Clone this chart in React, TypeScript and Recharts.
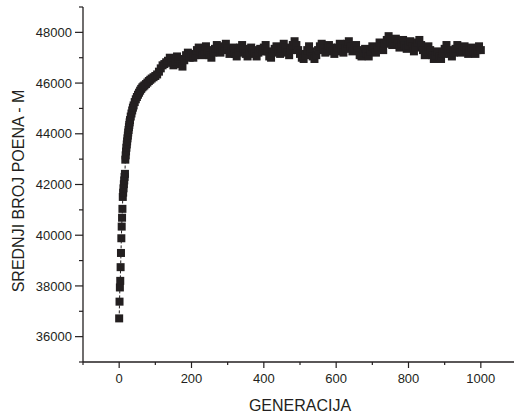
import { Line, LineChart, XAxis, YAxis } from "recharts";

const INK = "#231f20";
const FONT = "'Liberation Sans', Arial, Helvetica, sans-serif";

// generations (x) and mean score (y)
const generations = [
  0, 1, 2, 3, 4, 5, 6, 7, 8, 9, 10, 11, 12, 13, 14, 15, 16, 17, 18, 19, 20,
  21, 22, 23, 24, 25, 26, 27, 28, 29, 30, 32, 34, 36, 38, 40, 43, 46, 49, 52,
  55, 58, 61, 64, 67, 70, 74, 78, 82, 86, 90, 95,
  100, 105, 110, 115, 120, 125, 130, 135, 140, 145, 150, 155, 160, 165, 170, 175, 180, 185, 190, 195,
  200, 205, 210, 215, 220, 225, 230, 235, 240, 245, 250, 255, 260, 265, 270, 275, 280, 285, 290, 295,
  300, 305, 310, 315, 320, 325, 330, 335, 340, 345, 350, 355, 360, 365, 370, 375, 380, 385, 390, 395,
  400, 405, 410, 415, 420, 425, 430, 435, 440, 445, 450, 455, 460, 465, 470, 475, 480, 485, 490, 495,
  500, 505, 510, 515, 520, 525, 530, 535, 540, 545, 550, 555, 560, 565, 570, 575, 580, 585, 590, 595,
  600, 605, 610, 615, 620, 625, 630, 635, 640, 645, 650, 655, 660, 665, 670, 675, 680, 685, 690, 695,
  700, 705, 710, 715, 720, 725, 730, 735, 740, 745, 750, 755, 760, 765, 770, 775, 780, 785, 790, 795,
  800, 805, 810, 815, 820, 825, 830, 835, 840, 845, 850, 855, 860, 865, 870, 875, 880, 885, 890, 895,
  900, 905, 910, 915, 920, 925, 930, 935, 940, 945, 950, 955, 960, 965, 970, 975, 980, 985, 990, 995,
  1000,
];

const meanScore = [
  36720, 37380, 37940, 38200, 38740, 39300, 39880, 40340, 40690, 41040, 41510,
  41680, 41850, 42010, 42160, 42300, 42420, 42980, 43150, 43300, 43450,
  43580, 43700, 43820, 43930, 44050, 44150, 44260, 44350, 44450, 44540, 44680,
  44800, 44920, 45030, 45120, 45250, 45360, 45450, 45540, 45620, 45700, 45770,
  45830, 45870, 45910, 45960, 46020, 46080, 46130, 46180, 46230,
  46280, 46340, 46450, 46580, 46700, 46750, 46820, 46880, 47000, 46800, 46700, 46850, 47050, 46950, 46750, 46650, 46900, 47100, 47200, 47000,
  47150, 47000, 47100, 47300, 47400, 47250, 47100, 47250, 47450, 47300, 47100, 47000, 47200, 47350, 47500, 47350, 47200, 47300, 47450, 47550,
  47350, 47150, 47250, 47400, 47150, 47050, 47200, 47400, 47500, 47350, 47150, 47050, 47200, 47400, 47300, 47150, 47050, 47200, 47350, 47250,
  47400, 47500, 47250, 47050, 47000, 47200, 47350, 47450, 47300, 47150, 47350, 47550, 47400, 47200, 47100, 47300, 47500, 47650, 47500, 47300,
  47150, 47000, 46950, 47100, 47300, 47450, 47250, 47050, 46950, 47100, 47300, 47450, 47550, 47350, 47200, 47350, 47500, 47400, 47250, 47150,
  47250, 47400, 47550, 47350, 47200, 47350, 47550, 47650, 47450, 47250, 47350, 47500, 47300, 47100, 47050, 47200, 47350, 47150, 47050, 47250,
  47450, 47350, 47200, 47400, 47600, 47450, 47300, 47550, 47700, 47850, 47650, 47500, 47600, 47750, 47550, 47400, 47550, 47700, 47500, 47350,
  47500, 47650, 47450, 47250, 47400, 47600, 47700, 47500, 47300, 47100, 47250, 47450, 47300, 47100, 46950, 47100, 47250, 47050, 46950, 47150,
  47350, 47500, 47300, 47150, 47050, 47200, 47350, 47500, 47350, 47200, 47300, 47450, 47300, 47150, 47250, 47400, 47250, 47150, 47300, 47450,
  47300,
];

const xTicks = [-100, 0, 100, 200, 300, 400, 500, 600, 700, 800, 900, 1000, 1100];
const xLabelled = [0, 200, 400, 600, 800, 1000];
const yTicks = [
  35000, 36000, 37000, 38000, 39000, 40000, 41000, 42000, 43000, 44000, 45000,
  46000, 47000, 48000, 49000,
];
const yLabelled = [36000, 38000, 40000, 42000, 44000, 46000, 48000];

const AXIS_X = 83;
const AXIS_Y = 362;

const data = generations.map((g, i) => ({ gen: g, score: meanScore[i] }));

function YTick(props: any) {
  const v = props.payload.value;
  const major = yLabelled.includes(v);
  const y = props.y;
  return (
    <g>
      <line x1={AXIS_X} x2={AXIS_X - (major ? 8 : 4)} y1={y} y2={y} stroke={INK} strokeWidth={1.2} />
      {major && (
        <text x={AXIS_X - 11} y={y} dy="0.36em" textAnchor="end" fill={INK} fontSize={13} fontFamily={FONT}>
          {v}
        </text>
      )}
    </g>
  );
}

function XTick(props: any) {
  const v = props.payload.value;
  const major = v % 200 === 0;
  const x = props.x;
  return (
    <g>
      <line x1={x} x2={x} y1={AXIS_Y} y2={AXIS_Y + (major ? 6 : 3)} stroke={INK} strokeWidth={1.2} />
      {xLabelled.includes(v) && (
        <text x={x} y={AXIS_Y + 21} textAnchor="middle" fill={INK} fontSize={13} fontFamily={FONT}>
          {v}
        </text>
      )}
    </g>
  );
}

function SquareDot(props: any) {
  const { cx, cy, index } = props;
  if (cx == null || cy == null) return <g key={index} />;
  return <rect key={index} x={cx - 4} y={cy - 4} width={8} height={8} fill={INK} />;
}

export default function App() {
  return (
    <div style={{ position: "absolute", left: 0, top: 0, width: 514, height: 413, overflow: "hidden", background: "#fff" }}>
      <LineChart width={520} height={413} data={data} margin={{ top: 7, right: 3, bottom: 0, left: 0 }}>
        <XAxis
          dataKey="gen"
          type="number"
          domain={[-100, 1100]}
          ticks={xTicks}
          interval={0}
          height={51}
          tickLine={false}
          axisLine={{ stroke: INK, strokeWidth: 1.3 }}
          tick={<XTick />}
        />
        <YAxis
          type="number"
          domain={[35000, 49000]}
          ticks={yTicks}
          interval={0}
          width={83}
          tickLine={false}
          axisLine={{ stroke: INK, strokeWidth: 1.3 }}
          tick={<YTick />}
        />
        <Line
          dataKey="score"
          type="linear"
          stroke={INK}
          strokeWidth={1}
          strokeDasharray="3 2"
          dot={SquareDot}
          activeDot={false}
          isAnimationActive={false}
        />
      </LineChart>
      <svg width={514} height={413} style={{ position: "absolute", left: 0, top: 0, pointerEvents: "none" }}>
        <text
          x={24}
          y={191}
          transform="rotate(-90 24 191)"
          textAnchor="middle"
          fill={INK}
          fontSize={16}
          fontFamily={FONT}
        >
          SREDNJI BROJ POENA - M
        </text>
        <text x={300} y={411} textAnchor="middle" fill={INK} fontSize={16} fontFamily={FONT}>
          GENERACIJA
        </text>
      </svg>
    </div>
  );
}
